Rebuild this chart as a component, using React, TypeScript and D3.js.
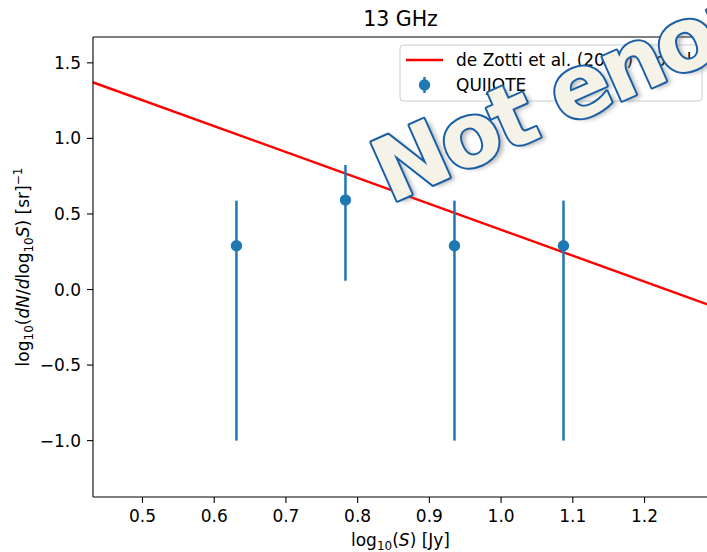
import React from "react";
import * as d3 from "d3";

// ---- data ----
const pointX = [0.631, 0.783, 0.935, 1.087];
const pointY = [0.29, 0.592, 0.29, 0.29];
const errLow = [-1.0, 0.058, -1.0, -1.0];
const errHigh = [0.588, 0.824, 0.588, 0.588];
const modelX = [0.4, 1.3];
const modelY = [1.424, -0.119];
const xTicks = [0.5, 0.6, 0.7, 0.8, 0.9, 1.0, 1.1, 1.2];
const yTicks = [-1.0, -0.5, 0.0, 0.5, 1.0, 1.5];
const titleText = "13 GHz";
const legendLabels = ["de Zotti et al. (2005) model", "QUIJOTE"];
const watermarkText = "Not enough data";

const W = 707;
const H = 552;
const L = 93, R = 708, T = 37, B = 497;
const FONT = "DejaVu Sans, sans-serif";
const BLUE = "#1f77b4";

export default function App() {
  React.useEffect(() => {
    document.body.style.margin = "0";
  }, []);

  const x = d3.scaleLinear().domain([0.431, 1.2885]).range([L, R]);
  const y = d3.scaleLinear().domain([-1.373, 1.671]).range([B, T]);
  const line = d3
    .line<number>()
    .x((_, i) => x(modelX[i]))
    .y((d) => y(d));

  const fmt = d3.format(".1f");
  const tickLabel = (v: number) => fmt(v).replace("-", "\u2212");

  return (
    <svg
      width={W}
      height={H}
      style={{ position: "absolute", left: 0, top: 0, display: "block", background: "#fff" }}
      fontFamily={FONT}
    >
      <defs>
        <clipPath id="plotClip">
          <rect x={L} y={T} width={R - L} height={B - T} />
        </clipPath>
        <filter id="shadow" x="-10%" y="-10%" width="120%" height="120%">
          <feGaussianBlur stdDeviation="2" />
        </filter>
      </defs>
      <rect x={0} y={0} width={W} height={H} fill="#fff" />

      {/* model line */}
      <g clipPath="url(#plotClip)">
        <path d={line(modelY) || ""} fill="none" stroke="#ff0000" strokeWidth={2.4} />
        {/* error bars */}
        {pointX.map((px, i) => (
          <line
            key={"e" + i}
            x1={x(px)}
            x2={x(px)}
            y1={y(errLow[i])}
            y2={y(errHigh[i])}
            stroke={BLUE}
            strokeWidth={2.5}
          />
        ))}
        {pointX.map((px, i) => (
          <circle key={"p" + i} cx={x(px)} cy={y(pointY[i])} r={5.7} fill={BLUE} />
        ))}
      </g>

      {/* spines */}
      <g stroke="#000" strokeWidth={1.1} fill="none">
        <line x1={L} x2={L} y1={T} y2={B} />
        <line x1={L} x2={R} y1={B} y2={B} />
        <line x1={L} x2={R} y1={T} y2={T} />
        <line x1={R} x2={R} y1={T} y2={B} />
      </g>

      {/* x ticks */}
      {xTicks.map((t) => (
        <g key={"xt" + t}>
          <line x1={x(t)} x2={x(t)} y1={B} y2={B + 6} stroke="#000" strokeWidth={1.1} />
          <text x={x(t)} y={B + 25} fontSize={17} textAnchor="middle" fill="#000">
            {tickLabel(t)}
          </text>
        </g>
      ))}
      {/* y ticks */}
      {yTicks.map((t) => (
        <g key={"yt" + t}>
          <line x1={L - 6} x2={L} y1={y(t)} y2={y(t)} stroke="#000" strokeWidth={1.1} />
          <text x={L - 12} y={y(t) + 6} fontSize={17} textAnchor="end" fill="#000">
            {tickLabel(t)}
          </text>
        </g>
      ))}

      {/* axis labels */}
      <text x={(L + R) / 2} y={546} fontSize={17} textAnchor="middle" fill="#000">
        log<tspan fontSize={12} dy={4}>10</tspan>
        <tspan dy={-4}>(</tspan>
        <tspan fontStyle="italic">S</tspan>) [Jy]
      </text>
      <text
        transform={`translate(29,${(T + B) / 2}) rotate(-90)`}
        fontSize={17}
        textAnchor="middle"
        fill="#000"
      >
        log<tspan fontSize={12} dy={4}>10</tspan>
        <tspan dy={-4}>(</tspan>
        <tspan fontStyle="italic">dN</tspan>/<tspan fontStyle="italic">d</tspan>log
        <tspan fontSize={12} dy={4}>10</tspan>
        <tspan dy={-4} fontStyle="italic">S</tspan>) [sr]
        <tspan fontSize={12} dy={-7}>−1</tspan>
      </text>

      {/* title */}
      <text x={(L + R) / 2} y={26} fontSize={20.5} textAnchor="middle" fill="#000">
        {titleText}
      </text>

      {/* legend */}
      <g>
        <rect
          x={400}
          y={45}
          width={302}
          height={56}
          rx={3}
          fill="#fff"
          fillOpacity={0.8}
          stroke="#cccccc"
          strokeWidth={1}
        />
        <line x1={406} x2={443} y1={60} y2={60} stroke="#ff0000" strokeWidth={2.4} />
        <text x={456} y={66} fontSize={17} fill="#000">
          {legendLabels[0]}
        </text>
        <line x1={424.5} x2={424.5} y1={77} y2={93} stroke={BLUE} strokeWidth={2.5} />
        <circle cx={424.5} cy={85} r={5.7} fill={BLUE} />
        <text x={456} y={91} fontSize={17} fill="#000">
          {legendLabels[1]}
        </text>
      </g>

      {/* watermark */}
      <g transform="translate(390,204) rotate(-24)">
        <text
          x={4}
          y={4}
          fontSize={88}
          fontWeight="bold"
          letterSpacing={-4}
          fill="#777"
          fillOpacity={0.5}
          filter="url(#shadow)"
        >
          {watermarkText}
        </text>
        <text
          x={0}
          y={0}
          fontSize={88}
          fontWeight="bold"
          letterSpacing={-4}
          fill="#f5f3e8"
          stroke="#1a5fa6"
          strokeWidth={4}
          paintOrder="stroke"
          strokeLinejoin="round"
        >
          {watermarkText}
        </text>
      </g>
    </svg>
  );
}
